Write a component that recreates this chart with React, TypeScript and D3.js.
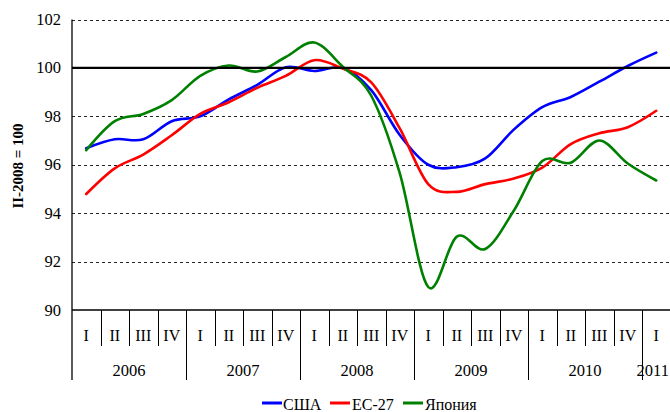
import React from "react";
import * as d3 from "d3";

const years = ["2006", "2007", "2008", "2009", "2010", "2011"];
const quarterNames = ["I", "II", "III", "IV"];
const quarterCount = 21;

const usa = [96.68, 97.05, 97.05, 97.8, 98.0, 98.7, 99.3, 100.03, 99.87, 100.0, 99.08, 97.23, 96.0, 95.9, 96.26, 97.45, 98.38, 98.8, 99.43, 100.08, 100.63];
const eu27 = [94.79, 95.85, 96.42, 97.22, 98.1, 98.58, 99.18, 99.67, 100.32, 99.97, 99.4, 97.5, 95.2, 94.88, 95.2, 95.43, 95.88, 96.85, 97.3, 97.55, 98.23];
const japan = [96.6, 97.8, 98.1, 98.67, 99.67, 100.1, 99.85, 100.45, 101.05, 100.05, 98.85, 95.65, 90.95, 93.03, 92.52, 94.1, 96.15, 96.08, 97.0, 96.05, 95.35];

const yTicks = [90, 92, 94, 96, 98, 100, 102];
const seriesNames = ["США", "ЕС-27", "Япония"];
const seriesColors = ["#0000ff", "#ff0000", "#008000"];
const yTitle = "II-2008 = 100";

const categories = Array.from({ length: quarterCount }, (_, i) => ({
  key: `${years[Math.floor(i / 4)]}-${quarterNames[i % 4]}`,
  quarter: quarterNames[i % 4],
  year: years[Math.floor(i / 4)],
}));

export default function App() {
  const W = 670, H = 412;
  const left = 72, right = 670.5, top = 19.5, bottom = 310;
  const x = d3.scaleBand<string>().domain(categories.map((c) => c.key)).range([left, right]).padding(0);
  const y = d3.scaleLinear().domain([90, 102]).range([bottom, top]);
  const bw = x.bandwidth();
  const cx = (i: number) => (x(categories[i].key) as number) + bw / 2;

  const line = d3
    .line<number>()
    .x((_, i) => cx(i))
    .y((d) => y(d))
    .curve(d3.curveCardinal.tension(0));

  const series = [usa, eu27, japan];
  const font = "'Liberation Serif', 'Times New Roman', serif";

  const yearStarts = years.map((yr) => categories.findIndex((c) => c.year === yr));

  const legendItems = [
    { x: 262, tx: 283 },
    { x: 330, tx: 352 },
    { x: 403, tx: 425 },
  ];

  return (
    <svg width={W} height={H} style={{ position: "absolute", left: 0, top: 0, background: "#fff" }} fontFamily={font}>
      {/* grid */}
      {yTicks.filter((t) => t !== 90 && t !== 100).map((t) => (
        <line key={t} x1={left} x2={W} y1={Math.round(y(t)) + 0.5} y2={Math.round(y(t)) + 0.5} stroke="#000" strokeWidth={1} strokeDasharray="3,3" opacity={0.85} />
      ))}
      {/* y labels */}
      {yTicks.map((t) => (
        <text key={t} x={61} y={y(t)} textAnchor="end" dominantBaseline="central" fontSize={16.5} fill="#000">{t}</text>
      ))}
      {/* y title */}
      <text transform={`translate(18,166) rotate(-90)`} textAnchor="middle" dominantBaseline="central" fontSize={15} fontWeight="bold" fill="#000">{yTitle}</text>
      {/* series */}
      {series.map((s, k) => (
        <path key={k} d={line(s) || ""} fill="none" stroke={seriesColors[k]} strokeWidth={2.6} strokeLinejoin="round" strokeLinecap="round" />
      ))}
      {/* 100 line */}
      <line x1={left} x2={W} y1={y(100)} y2={y(100)} stroke="#000" strokeWidth={2.2} />
      {/* x axis */}
      <line x1={left} x2={W} y1={bottom} y2={bottom} stroke="#000" strokeWidth={1.3} />
      <line x1={left} x2={left} y1={top} y2={380} stroke="#000" strokeWidth={1.3} />
      {categories.map((c, i) => {
        const x0 = x(c.key) as number;
        const isYear = i % 4 === 0;
        return (
          <g key={c.key}>
            {i > 0 && (
              <line x1={Math.round(x0) + 0.5} x2={Math.round(x0) + 0.5} y1={bottom} y2={isYear ? 380 : 346} stroke="#000" strokeWidth={1} />
            )}
            <text x={cx(i)} y={335} textAnchor="middle" dominantBaseline="central" fontSize={16} fill="#000">{c.quarter}</text>
          </g>
        );
      })}
      {years.map((yr, j) => {
        const s = yearStarts[j];
        const e = Math.min(s + 4, quarterCount) - 1;
        const mid = ((x(categories[s].key) as number) + (x(categories[e].key) as number) + bw) / 2;
        const last = j === years.length - 1;
        return (
          <text key={yr} x={last ? W - 1 : mid} y={370} textAnchor={last ? "end" : "middle"} dominantBaseline="central" fontSize={16.5} fill="#000">{yr}</text>
        );
      })}
      {/* legend */}
      {seriesNames.map((n, k) => (
        <g key={n}>
          <line x1={legendItems[k].x} x2={legendItems[k].x + 20} y1={403} y2={403} stroke={seriesColors[k]} strokeWidth={3} />
          <text x={legendItems[k].tx} y={404} dominantBaseline="central" fontSize={16} fill="#000">{n}</text>
        </g>
      ))}
    </svg>
  );
}
